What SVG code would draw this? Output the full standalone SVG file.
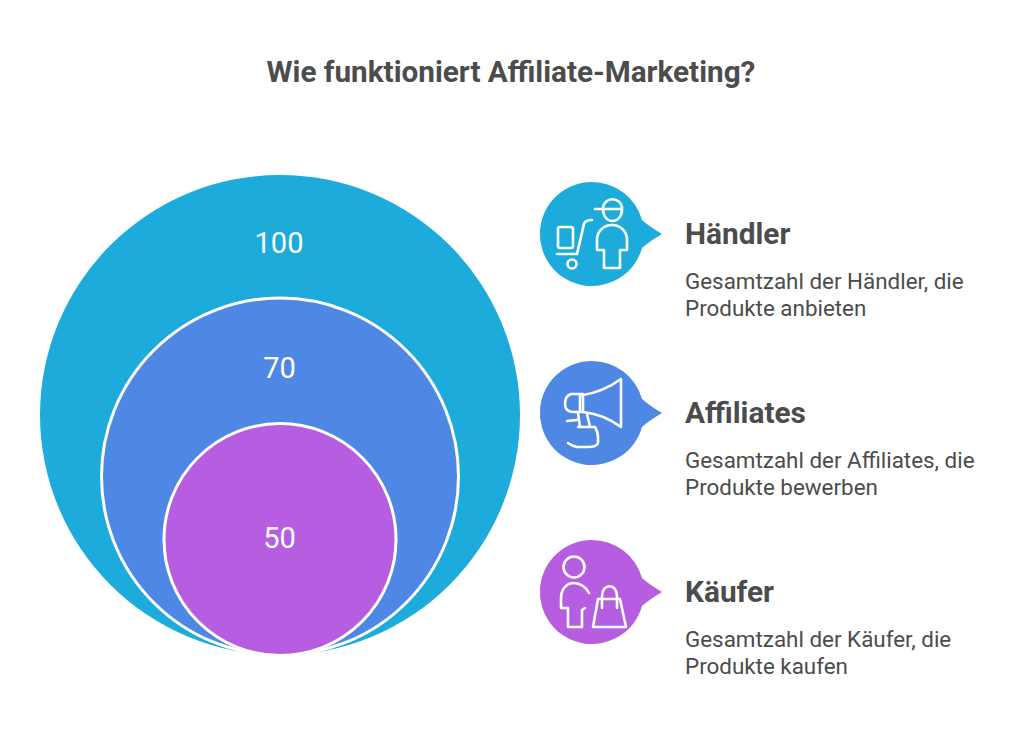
<svg xmlns="http://www.w3.org/2000/svg" width="1024" height="755" viewBox="0 0 1024 755">
<style>
text{font-family:Roboto,"Liberation Sans",sans-serif;fill:#4c4c4c}
.t{font-size:29.700px;font-weight:700}
.h{font-size:29.800px;font-weight:700}
.d{font-size:22.400px;font-weight:400}
.n{font-size:29px;fill:#fff;text-anchor:middle}
.c{stroke:#fff;stroke-width:3}
.i{fill:none;stroke:#fff;stroke-width:2.6;stroke-linecap:round;stroke-linejoin:round}
.b{stroke:none}
</style>
<rect width="1024" height="755" fill="#fff"/>
<text id="title" class="t" x="511" y="82" text-anchor="middle">Wie funktioniert Affiliate-Marketing?</text>
<g id="ring-100"><circle cx="280" cy="415" r="240" fill="#1dabdc"/><text class="n" x="279" y="253">100</text></g>
<g id="ring-70"><circle class="c" cx="280" cy="476.500" r="178.500" fill="#4f88e4"/><text class="n" x="279.500" y="378">70</text></g>
<g id="ring-50"><circle class="c" cx="280" cy="539.500" r="116" fill="#b65de2"/><text class="n" x="279.500" y="548">50</text></g>
<g id="node-haendler">
<path class="b" fill="#1dabdc" d="M592 182A52 52 0 0 1 642 220Q650 227 662 234Q650 241 642 248A52 52 0 1 1 592 182Z"/>
<g class="i">
<rect x="558" y="227" width="15" height="21" rx="2"/>
<path d="M557 254H577L584 224Q585 220 592 220"/>
<circle cx="572" cy="264" r="4.500"/>
<path d="M595 209H622M603 209C603 196 622 196 622 209C622 225 603 225 603 209Z"/>
<path d="M604 268V250H597V240C597 231 604 225 612 225C620 225 627 231 627 240V250H620V268Z"/>
</g>
<text class="h" x="685" y="244">Händler</text>
<text class="d" x="685" y="289">Gesamtzahl der Händler, die</text>
<text class="d" x="685" y="316">Produkte anbieten</text>
</g>
<g id="node-affiliates">
<path class="b" fill="#4f88e4" d="M592 361A52 52 0 0 1 642 399Q650 406 662 413Q650 420 642 427A52 52 0 1 1 592 361Z"/>
<g class="i">
<path d="M583 395Q603 392 621 379V427Q603 414 583 412Z"/>
<path d="M583 394H571Q565 396 565 404Q565 412 574 412H583M580 394V412"/>
<path d="M567 421L577 420M578 413L580 427M587 414L590 427M578 427H595Q598 432 598 437V443Q597 447 588 447H577Q572 446 568 443"/>
</g>
<text class="h" x="685" y="423">Affiliates</text>
<text class="d" x="685" y="468">Gesamtzahl der Affiliates, die</text>
<text class="d" x="685" y="495">Produkte bewerben</text>
</g>
<g id="node-kaeufer">
<path class="b" fill="#b65de2" d="M592 540A52 52 0 0 1 642 578Q650 585 662 592Q650 599 642 606A52 52 0 1 1 592 540Z"/>
<g class="i">
<circle cx="574" cy="567" r="10.500"/>
<path d="M589 593C586 587 580 583 574 583C566 583 561 590 561 598V608H568V627H582V610L585 608"/>
<path d="M598 599H620L626 627H593Z"/>
<path d="M602 608V596C602 583 617 583 617 596V608"/>
</g>
<text class="h" x="685" y="602">Käufer</text>
<text class="d" x="685" y="647">Gesamtzahl der Käufer, die</text>
<text class="d" x="685" y="674">Produkte kaufen</text>
</g>
</svg>
